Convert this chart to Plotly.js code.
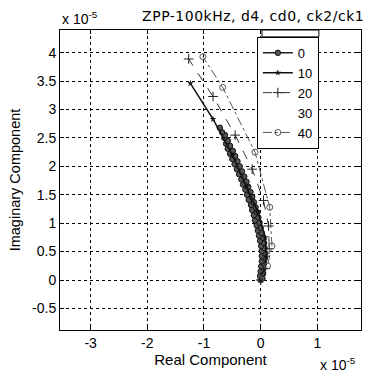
<!DOCTYPE html>
<html><head><meta charset="utf-8">
<script src="https://cdn.plot.ly/plotly-3.0.1.min.js"></script>
<style>html,body{margin:0;padding:0;background:#fff}#plot{width:366px;height:375px}
#plot .gtitle{letter-spacing:0.5px}</style>
</head><body><div id="plot"></div>
<script>
// values in units of 1e-5
const seriesNames = ["0", "10", "20", "30", "40"];
const s0x = [0.00,0.03,-0.01,0.04,0.00,0.05,0.01,0.06,0.02,0.07,0.02,0.08,0.02,0.07,0.01,0.06,-0.01,0.04,-0.03,0.02,-0.05,0.00,-0.07,-0.02,-0.10,-0.04,-0.12,-0.06,-0.15,-0.09,-0.17,-0.12,-0.21,-0.15,-0.24,-0.18,-0.27,-0.22,-0.31,-0.25,-0.34,-0.29,-0.38,-0.33,-0.42,-0.37,-0.46,-0.41,-0.50,-0.45,-0.54,-0.49,-0.58,-0.54,-0.61,-0.58,-0.64,-0.63,-0.68,-0.72];
const s0y = [0.00,0.03,0.07,0.11,0.15,0.20,0.24,0.29,0.33,0.38,0.42,0.47,0.51,0.56,0.60,0.65,0.69,0.74,0.78,0.83,0.87,0.92,0.96,1.01,1.05,1.10,1.14,1.19,1.23,1.28,1.32,1.37,1.41,1.46,1.50,1.55,1.59,1.64,1.68,1.73,1.77,1.82,1.86,1.91,1.95,2.00,2.04,2.09,2.13,2.18,2.22,2.27,2.31,2.36,2.40,2.45,2.50,2.55,2.60,2.68];
const s10x = [0,0.05,0.1,0.08,-0.05,-0.25,-0.5,-0.84,-1.24];
const s10y = [0,0.12,0.4,0.75,1.2,1.65,2.2,2.83,3.46];
const s20x = [0,0.08,0.15,0.14,0.05,-0.15,-0.45,-0.84,-1.27];
const s20y = [0,0.2,0.55,0.95,1.4,1.95,2.55,3.23,3.89];
const s30x = [0,0.1,0.18,0.15,0,-0.3,-0.65];
const s30y = [0,0.3,0.7,1.2,1.8,2.4,3.0];
const s40x = [0,0.12,0.2,0.16,-0.10,-0.67,-1.02];
const s40y = [0,0.25,0.6,1.28,2.25,3.39,3.93];
const xTicks = [-3,-2,-1,0,1];
const yTicks = [-0.5,0,0.5,1,1.5,2,2.5,3,3.5,4];

const traces = [
 {x:s0x,y:s0y,name:seriesNames[0],mode:"lines+markers",line:{color:"#222",width:1.5},marker:{symbol:"circle",size:5.5,color:"#555",line:{color:"#111",width:1}}},
 {x:s10x,y:s10y,name:seriesNames[1],mode:"lines+markers",line:{color:"#111",width:1.5},marker:{symbol:"star",size:5,color:"#111"}},
 {x:s20x,y:s20y,name:seriesNames[2],mode:"lines+markers",line:{color:"#333",width:1,dash:"dash"},marker:{symbol:"cross-thin-open",size:7,color:"#222",line:{width:1}}},
 {x:s30x,y:s30y,name:seriesNames[3],mode:"lines",line:{color:"rgba(0,0,0,0)",width:1}},
 {x:s40x,y:s40y,name:seriesNames[4],mode:"lines+markers",line:{color:"#555",width:1,dash:"dashdot"},marker:{symbol:"circle-open",size:6,color:"#555",line:{width:1}}}
];
const sans = "Liberation Sans, Arial, sans-serif";
const layout = {
 width:366,height:375,
 margin:{l:60,r:5,t:30,b:45},
 paper_bgcolor:"#fff",plot_bgcolor:"#fff",
 font:{family:sans,size:14,color:"#000"},
 showlegend:true,
 legend:{traceorder:"normal",x:0.654,y:0.977,xanchor:"left",yanchor:"top",bgcolor:"#fff",bordercolor:"#000",borderwidth:1,font:{family:sans,size:13,color:"#000"},itemwidth:30,tracegroupgap:0},
 title:{text:"ZPP-100kHz, d4, cd0, ck2/ck1",x:0.995,xanchor:"right",xref:"container",y:0.958,yanchor:"middle",yref:"container",font:{family:"DejaVu Sans, sans-serif",size:14,color:"#000"}},
 xaxis:{range:[-3.54,1.77],tickvals:xTicks,ticktext:xTicks.map(String),showgrid:true,gridcolor:"#000",griddash:"dot",gridwidth:1,zeroline:false,showline:true,linecolor:"#000",linewidth:1,mirror:"ticks",ticks:"inside",ticklen:4,tickcolor:"#000",tickfont:{size:14},
   title:{text:"Real Component",standoff:4,font:{size:15}}},
 yaxis:{range:[-0.88,4.4],tickvals:yTicks,ticktext:yTicks.map(String),showgrid:true,gridcolor:"#000",griddash:"dot",gridwidth:1,zeroline:false,showline:true,linecolor:"#000",linewidth:1,mirror:"ticks",ticks:"inside",ticklen:4,tickcolor:"#000",tickfont:{size:14},
   title:{text:"Imaginary Component",standoff:8,font:{size:14.5}}},
 annotations:[
  {text:"x 10<sup>-5</sup>",xref:"paper",yref:"paper",x:0,xanchor:"left",y:1.005,yanchor:"bottom",showarrow:false,font:{size:14}},
  {text:"x 10<sup>-5</sup>",xref:"paper",yref:"paper",x:0.99,xanchor:"right",y:-0.075,yanchor:"top",showarrow:false,font:{size:14}}
 ],
 shapes:[
  {type:"rect",xref:"paper",yref:"paper",x0:0.671,x1:0.860,y0:0.977,y1:1.0,line:{color:"#000",width:1},fillcolor:"#fff"}
 ]
};
Plotly.newPlot("plot",traces,layout,{displayModeBar:false,staticPlot:true});
</script></body></html>
